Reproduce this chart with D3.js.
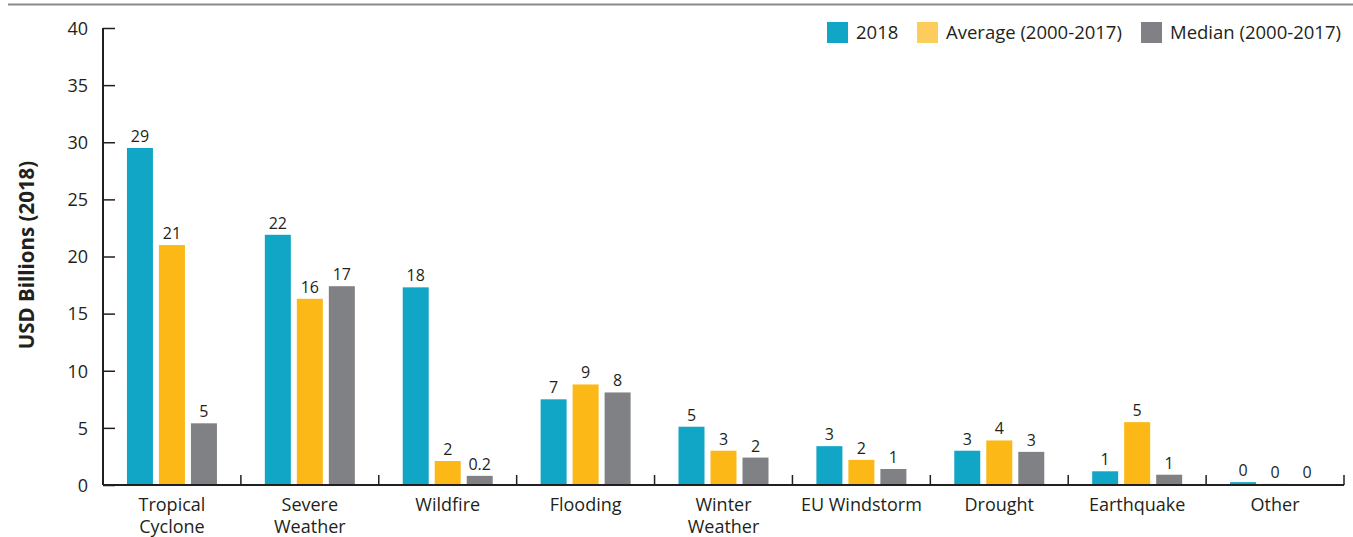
<!DOCTYPE html>
<html lang="en">
<head>
  <meta charset="UTF-8">
  <title>Insured losses by peril</title>
  <style>
    body { margin: 0; background: #fff; }
    text { font-family: "Open Sans", "Noto Sans", sans-serif; fill: #231f20; }
  </style>
</head>
<body>
  <script src="https://cdn.jsdelivr.net/npm/d3@7"></script>
  <script>
// data
const categories = ['Tropical Cyclone', 'Severe Weather', 'Wildfire', 'Flooding', 'Winter Weather', 'EU Windstorm', 'Drought', 'Earthquake', 'Other']
const seriesNames = ['2018', 'Average (2000-2017)', 'Median (2000-2017)']
const values2018 = [29.5, 21.9, 17.3, 7.5, 5.1, 3.4, 3.0, 1.2, 0.25]
const valuesAvg = [21.0, 16.3, 2.1, 8.8, 3.0, 2.2, 3.9, 5.5, 0.1]
const valuesMedian = [5.4, 17.4, 0.8, 8.1, 2.4, 1.4, 2.9, 0.9, 0.05]
const labels2018 = ['29', '22', '18', '7', '5', '3', '3', '1', '0']
const labelsAvg = ['21', '16', '2', '9', '3', '2', '4', '5', '0']
const labelsMedian = ['5', '17', '0.2', '8', '2', '1', '3', '1', '0']
const yTicks = [0, 5, 10, 15, 20, 25, 30, 35, 40]

const colors = ['#12a6c6', '#fbb817', '#808184']
const legendColors = ['#12a6c6', '#fdcd5b', '#808184']

const width = 1353
const height = 537
const margin = { top: 28, right: 9, bottom: 52, left: 103 }
const innerWidth = width - margin.left - margin.right
const innerHeight = height - margin.top - margin.bottom

const svg = d3.select('body').append('svg')
  .attr('width', width)
  .attr('height', height)

// top rule
svg.append('line')
  .attr('x1', 8).attr('x2', width)
  .attr('y1', 4.5).attr('y2', 4.5)
  .attr('stroke', '#8a8a8a')
  .attr('stroke-width', 2)

const g = svg.append('g')
  .attr('transform', `translate(${margin.left}, ${margin.top})`)

const xScale = d3.scaleBand()
  .domain(categories)
  .range([0, 1241])

const xInner = d3.scaleBand()
  .domain(seriesNames)
  .range([xScale.bandwidth() / 2 - 45, xScale.bandwidth() / 2 + 45])
  .paddingInner(6 / 32)

const yScale = d3.scaleLinear()
  .domain([0, 40])
  .range([innerHeight, 0])

const series = [values2018, valuesAvg, valuesMedian]
const seriesLabels = [labels2018, labelsAvg, labelsMedian]

// bars
const groups = g.selectAll('.cat')
  .data(categories)
  .enter()
  .append('g')
  .attr('class', 'cat')
  .attr('transform', d => `translate(${xScale(d)}, 0)`)

groups.selectAll('rect')
  .data((d, i) => seriesNames.map((s, j) => ({ s, j, v: series[j][i], l: seriesLabels[j][i] })))
  .enter()
  .append('rect')
  .attr('x', d => xInner(d.s))
  .attr('width', xInner.bandwidth())
  .attr('y', d => yScale(d.v))
  .attr('height', d => innerHeight - yScale(d.v))
  .attr('fill', d => colors[d.j])

groups.selectAll('.lbl')
  .data((d, i) => seriesNames.map((s, j) => ({ s, j, v: series[j][i], l: seriesLabels[j][i] })))
  .enter()
  .append('text')
  .attr('class', 'lbl')
  .attr('x', d => xInner(d.s) + xInner.bandwidth() / 2)
  .attr('y', d => yScale(d.v) - 6)
  .attr('text-anchor', 'middle')
  .attr('font-size', 16)
  .text(d => d.l)

// y axis
const yAxis = d3.axisRight(yScale)
  .tickValues(yTicks)
  .tickSize(12)
  .tickFormat('')
const yg = g.append('g').call(yAxis)
yg.select('.domain').remove()
yg.selectAll('line').attr('stroke', '#231f20').attr('stroke-width', 1.5)
yg.selectAll('.tick')
  .append('text')
  .attr('x', -15)
  .attr('dy', '0.35em')
  .attr('text-anchor', 'end')
  .attr('font-size', 18)
  .text(d => d)

g.append('line')
  .attr('x1', 0).attr('x2', 0)
  .attr('y1', 0).attr('y2', innerHeight)
  .attr('stroke', '#231f20').attr('stroke-width', 2)

// x axis
g.append('line')
  .attr('x1', 0).attr('x2', 1241)
  .attr('y1', innerHeight).attr('y2', innerHeight)
  .attr('stroke', '#231f20').attr('stroke-width', 2)

g.selectAll('.xtick')
  .data(categories)
  .enter()
  .append('line')
  .attr('x1', d => xScale(d) + xScale.bandwidth())
  .attr('x2', d => xScale(d) + xScale.bandwidth())
  .attr('y1', innerHeight)
  .attr('y2', innerHeight - 10)
  .attr('stroke', '#231f20').attr('stroke-width', 1.5)

const catLabels = g.selectAll('.catlabel')
  .data(categories)
  .enter()
  .append('text')
  .attr('class', 'catlabel')
  .attr('text-anchor', 'middle')
  .attr('font-size', 18)
  .attr('x', d => xScale(d) + xScale.bandwidth() / 2)
  .attr('y', innerHeight + 26)

catLabels.each(function (d) {
  const words = d === 'EU Windstorm' ? [d] : d.split(' ')
  const t = d3.select(this)
  words.forEach((w, i) => {
    t.append('tspan')
      .attr('x', xScale(d) + xScale.bandwidth() / 2)
      .attr('dy', i === 0 ? 0 : 22)
      .text(w)
  })
})

// y title
svg.append('text')
  .attr('transform', `translate(34, 255) rotate(-90)`)
  .attr('text-anchor', 'middle')
  .attr('font-size', 20.5)
  .attr('font-weight', 'bold')
  .text('USD Billions (2018)')

// legend
const legendX = [827, 917, 1141]
const legend = svg.selectAll('.legend')
  .data(seriesNames)
  .enter()
  .append('g')
  .attr('class', 'legend')
  .attr('transform', (d, i) => `translate(${legendX[i]}, 22)`)

legend.append('rect')
  .attr('width', 21)
  .attr('height', 21)
  .attr('fill', (d, i) => legendColors[i])

legend.append('text')
  .attr('x', 29)
  .attr('y', 11)
  .attr('dy', '0.35em')
  .attr('font-size', 18.5)
  .text(d => d)
  </script>
</body>
</html>
